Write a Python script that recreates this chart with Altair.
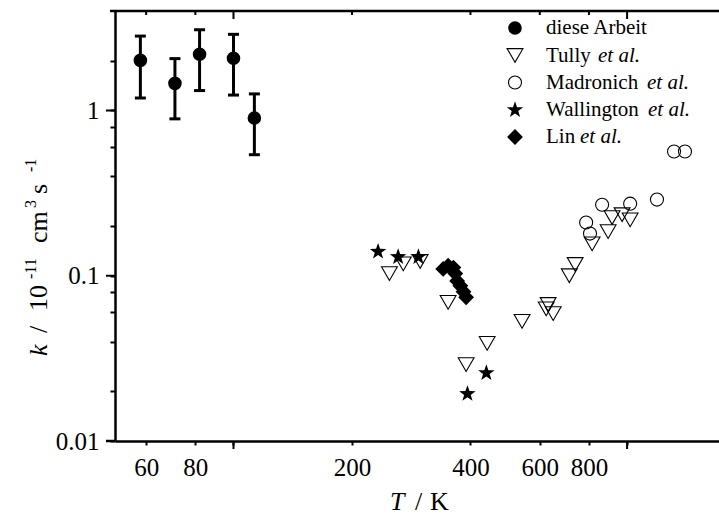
import altair as alt
import pandas as pd

# ---------------- data ----------------
this_T = [58, 71, 82, 100, 113]
this_k = [2.01, 1.46, 2.19, 2.07, 0.90]
this_lo = [1.19, 0.89, 1.32, 1.24, 0.54]
this_hi = [2.82, 2.06, 3.08, 2.89, 1.26]

tully_T = [249, 270, 298, 351, 390, 441, 541, 623, 630, 649, 713, 738, 815, 895, 916, 971, 1018]
tully_k = [0.103, 0.118, 0.122, 0.069, 0.029, 0.039, 0.053, 0.063, 0.067, 0.059,
           0.100, 0.117, 0.156, 0.185, 0.225, 0.234, 0.218]

madr_T = [787, 805, 864, 1018, 1191, 1316, 1403]
madr_k = [0.210, 0.180, 0.269, 0.273, 0.289, 0.565, 0.565]

wall_T = [233, 262, 295, 393, 439]
wall_k = [0.140, 0.130, 0.130, 0.0193, 0.0258]

lin_T = [341, 351, 362, 366, 370, 377, 384, 390]
lin_k = [0.110, 0.115, 0.112, 0.103, 0.093, 0.087, 0.080, 0.074]

x_ticks = [60, 80, 100, 200, 400, 600, 800, 1000]
x_major = [100, 1000]
x_minor = [60, 80, 200, 400, 600, 800]
y_ticks = [0.01, 0.02, 0.04, 0.06, 0.08, 0.1, 0.2, 0.4, 0.6, 0.8, 1, 2]
y_major = [0.01, 0.1, 1]

legend_names = ["diese Arbeit", "Tully", "Madronich", "Wallington", "Lin"]

FONT = "Liberation Serif"
W, H = 604, 430
STAR = "M0,-1L0.235,-0.324L0.951,-0.309L0.38,0.124L0.588,0.809L0,0.4L-0.588,0.809L-0.38,0.124L-0.951,-0.309L-0.235,-0.324Z"

xs = alt.Scale(type="log", domain=[50, 1712], nice=False)
ys = alt.Scale(type="log", domain=[0.01, 4], nice=False)

x_axis = alt.Axis(
    values=x_ticks,
    labelExpr="(datum.value == 100 || datum.value == 1000) ? '' : datum.label",
    format="d",
    title=None, grid=False, domainWidth=2.5, tickWidth=2, domainColor="black",
    tickColor="black", tickSize=4,
    labelFont=FONT, labelFontSize=25, labelColor="black", labelPadding=10,
    labelFlush=False, labelOverlap=False,
)
y_axis = alt.Axis(
    values=y_ticks,
    labelExpr="datum.value == 0.01 ? '0.01' : (datum.value == 0.1 ? '0.1' : (datum.value == 1 ? '1' : ''))",
    title=None, grid=False, domainWidth=2.5, tickWidth=2, domainColor="black",
    tickColor="black", tickSize=5,
    labelFont=FONT, labelFontSize=25, labelColor="black", labelPadding=11,
    labelFlush=False, labelOverlap=False,
)

def X(f):
    return alt.X(f, scale=xs, axis=x_axis)

def Y(f):
    return alt.Y(f, scale=ys, axis=y_axis)

this_df = pd.DataFrame({"T": this_T, "k": this_k, "lo": this_lo, "hi": this_hi})
tully_df = pd.DataFrame({"T": tully_T, "k": tully_k})
madr_df = pd.DataFrame({"T": madr_T, "k": madr_k})
wall_df = pd.DataFrame({"T": wall_T, "k": wall_k})
lin_df = pd.DataFrame({"T": lin_T, "k": lin_k})
xmajor_df = pd.DataFrame({"T": x_major})
xminor_df = pd.DataFrame({"T": x_minor})
ymajor_df = pd.DataFrame({"k": y_major})
dummy = pd.DataFrame({"a": [0]})

errbars = alt.Chart(this_df).mark_rule(strokeWidth=3, color="black").encode(
    x=X("T:Q"), y=Y("lo:Q"), y2="hi:Q")
cap_lo = alt.Chart(this_df).mark_tick(orient="horizontal", size=11, thickness=3, color="black", opacity=1).encode(
    x=X("T:Q"), y=Y("lo:Q"))
cap_hi = alt.Chart(this_df).mark_tick(orient="horizontal", size=11, thickness=3, color="black", opacity=1).encode(
    x=X("T:Q"), y=Y("hi:Q"))

def sym_mark(data, shape, size, filled):
    if filled:
        return alt.Chart(data).mark_point(shape=shape, size=size, filled=True, color="black", opacity=1)
    return alt.Chart(data).mark_point(shape=shape, size=size, filled=False, color="black",
                                      strokeWidth=1.1, opacity=1)

def pts(df, shape, size, filled):
    return sym_mark(df, shape, size, filled).encode(x=X("T:Q"), y=Y("k:Q"))

this_pts = pts(this_df, "circle", 185, True)
tully_pts = pts(tully_df, "triangle-down", 250, False)
madr_pts = pts(madr_df, "circle", 170, False)
wall_pts = pts(wall_df, STAR, 300, True)
lin_pts = pts(lin_df, "diamond", 250, True)

# frame pieces: top line with inward ticks, longer major ticks
top_line = alt.Chart(dummy).mark_rule(color="black", strokeWidth=2.5).encode(
    x=alt.value(-5), x2=alt.value(W), y=alt.value(0))
bot_ext = alt.Chart(dummy).mark_rule(color="black", strokeWidth=2.5).encode(
    x=alt.value(-9), x2=alt.value(0), y=alt.value(H))
top_major = alt.Chart(xmajor_df).mark_rule(color="black", strokeWidth=2).encode(
    x=X("T:Q"), y=alt.value(0), y2=alt.value(8))
top_minor = alt.Chart(xminor_df).mark_rule(color="black", strokeWidth=2).encode(
    x=X("T:Q"), y=alt.value(0), y2=alt.value(4))
bot_major = alt.Chart(xmajor_df).mark_rule(color="black", strokeWidth=2).encode(
    x=X("T:Q"), y=alt.value(H), y2=alt.value(H + 8))
left_major = alt.Chart(ymajor_df).mark_rule(color="black", strokeWidth=2).encode(
    y=Y("k:Q"), x=alt.value(-9), x2=alt.value(0))

# legend (manual, to allow italic "et al.")
leg_x, txt_x = 400, 431
leg_y = [17, 44.5, 71.5, 99, 126]
leg_shapes = [("circle", 185, True), ("triangle-down", 250, False), ("circle", 170, False),
              (STAR, 300, True), ("diamond", 250, True)]
etal_x = [None, 483, 532, 533, 465]
legend_layers = []
for i, name in enumerate(legend_names):
    shp, sz, fil = leg_shapes[i]
    legend_layers.append(sym_mark(dummy, shp, sz, fil).encode(x=alt.value(leg_x), y=alt.value(leg_y[i])))
    legend_layers.append(alt.Chart(dummy).mark_text(
        text=name, align="left", baseline="middle", font=FONT, fontSize=21, color="black"
    ).encode(x=alt.value(txt_x), y=alt.value(leg_y[i])))
    if etal_x[i] is not None:
        legend_layers.append(alt.Chart(dummy).mark_text(
            text="et al.", align="left", baseline="middle", font=FONT, fontSize=21,
            fontStyle="italic", color="black"
        ).encode(x=alt.value(etal_x[i]), y=alt.value(leg_y[i])))

# axis titles built from text pieces (italic symbols, superscripts)
def txt(s, x, y, size, italic=False, angle=0):
    kw = dict(text=s, align="left", baseline="alphabetic", font=FONT, fontSize=size, color="black")
    if italic:
        kw["fontStyle"] = "italic"
    if angle:
        kw["angle"] = angle
    return alt.Chart(dummy).mark_text(**kw).encode(x=alt.value(x), y=alt.value(y))

ox, oy = 115, 11
title_layers = [
    txt("T", 390 - ox, 510 - oy, 26, italic=True),
    txt("/", 415 - ox, 510 - oy, 26),
    txt("K", 430 - ox, 510 - oy, 26),
    txt("k", 47 - ox, 356 - oy, 26, italic=True, angle=270),
    txt("/", 47 - ox, 333 - oy, 26, angle=270),
    txt("10", 47 - ox, 311 - oy, 26, angle=270),
    txt("-11", 36 - ox, 279 - oy, 16, angle=270),
    txt("cm", 47 - ox, 243 - oy, 26, angle=270),
    txt("3", 36 - ox, 208 - oy, 16, angle=270),
    txt("s", 47 - ox, 194 - oy, 26, angle=270),
    txt("-1", 36 - ox, 172 - oy, 16, angle=270),
]

chart = alt.layer(
    errbars, cap_lo, cap_hi, tully_pts, madr_pts, wall_pts, lin_pts, this_pts,
    top_line, bot_ext, top_major, top_minor, bot_major, left_major, *legend_layers, *title_layers
).properties(
    width=W, height=H,
    autosize=alt.AutoSizeParams(type="none"),
    padding={"left": ox, "top": oy, "right": 0, "bottom": 515 - oy - H},
    background="white",
).configure_view(stroke=None)

chart.save("out.html", embed_options={"renderer": "svg", "actions": False})
